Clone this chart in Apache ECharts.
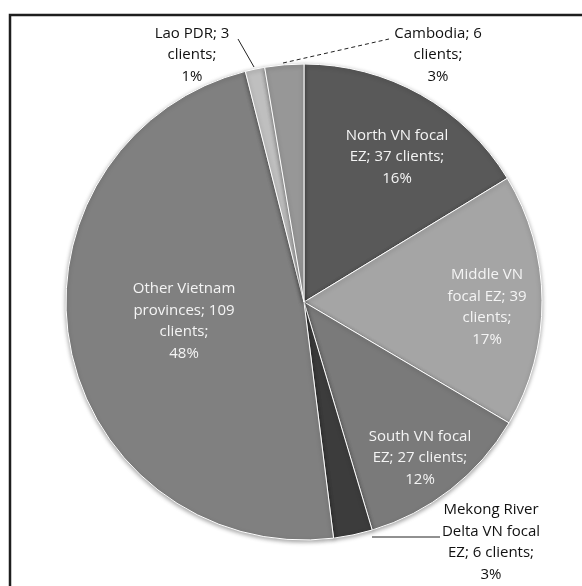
<!DOCTYPE html>
<html>
<head>
<meta charset="utf-8">
<script src="https://cdn.jsdelivr.net/npm/echarts@6/dist/echarts.min.js"></script>
<style>
html,body{margin:0;padding:0;background:#fff;}
#chart{width:582px;height:586px;}
</style>
</head>
<body>
<div id="chart"></div>
<script>
// ---- data ----
var categories = ['North VN focal EZ', 'Middle VN focal EZ', 'South VN focal EZ', 'Mekong River Delta VN focal EZ', 'Other Vietnam provinces', 'Lao PDR', 'Cambodia'];
var clients = [37, 39, 27, 6, 109, 3, 6];

// ---- style / layout (not data) ----
var colors = ['#595959', '#a5a5a5', '#7a7a7a', '#3c3c3c', '#808080', '#bfbfbf', '#979797'];
var wordsPerLine = [[3,3,1],[2,3,1,1],[3,3,1],[2,3,3,1],[2,2,1,1],[3,1,1],[2,1,1]];
var inside = [true, true, true, false, true, false, false];
var labelCenters = [[397,157],[487,307],[420,458],[491,542],[184,321],[192,55],[438,55]];
var linePts = [null, null, null,
  [[372,537],[406,537],[440,537]],
  null,
  [[254,67],[246,53],[238,39]],
  [[283,63],[336,51],[389,39]]];

var chart = echarts.init(document.getElementById('chart'), null, {renderer:'canvas'});

var data = categories.map(function(name, i){
  return {
    name: name,
    value: clients[i],
    itemStyle: {color: colors[i]},
    label: {
      position: inside[i] ? 'inside' : 'outside',
      color: inside[i] ? '#f4f4f4' : '#111111'
    },
    labelLine: {show: !inside[i], lineStyle: {color: '#222', width: 1, type: i === 6 ? [4,3] : 'solid'}}
  };
});

chart.setOption({
  animation: false,
  backgroundColor: '#ffffff',
  graphic: [{
    type: 'polyline',
    shape: {points: [[10, 600], [10, 15], [600, 15]]},
    style: {stroke: '#1e1e1e', lineWidth: 2.5, fill: null},
    z: 10
  }],
  series: [{
    type: 'pie',
    center: [304, 302],
    radius: [0, 238],
    startAngle: 90,
    clockwise: true,
    percentPrecision: 0,
    avoidLabelOverlap: false,
    itemStyle: {
      borderColor: '#ffffff',
      borderWidth: 1,
      shadowBlur: 4,
      shadowColor: 'rgba(0,0,0,0.35)',
      shadowOffsetY: 1.5
    },
    label: {
      fontFamily: 'Open Sans',
      fontSize: 15,
      lineHeight: 21.5,
      align: 'center',
      formatter: function(p){
        var words = (p.name + '; ' + p.value + ' clients; ' + p.percent + '%').split(' ');
        var lines = [], k = 0;
        wordsPerLine[p.dataIndex].forEach(function(n){
          lines.push(words.slice(k, k+n).join(' '));
          k += n;
        });
        return lines.join('\n');
      }
    },
    labelLine: {show: false},
    labelLayout: function(p){
      var i = p.dataIndex;
      var o = {x: labelCenters[i][0], y: labelCenters[i][1], align: 'center', verticalAlign: 'middle'};
      if (linePts[i]) o.labelLinePoints = linePts[i];
      return o;
    },
    emphasis: {disabled: true},
    data: data
  }]
});
</script>
</body>
</html>
